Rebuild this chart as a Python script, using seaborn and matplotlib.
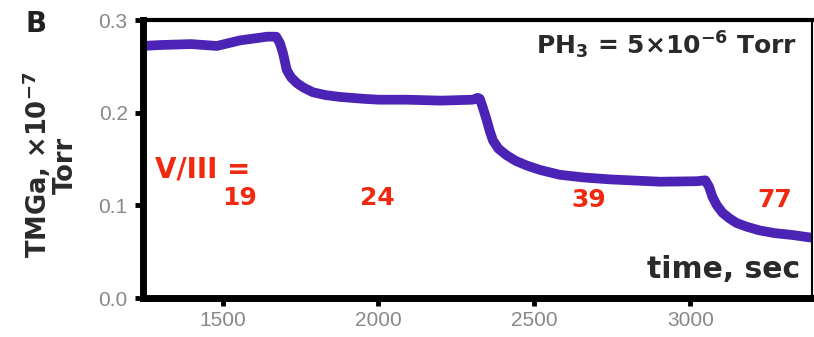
import matplotlib
matplotlib.use("Agg")
import matplotlib.pyplot as plt
import seaborn as sns
import pandas as pd

# ---- data ----
time_sec = [1245, 1300, 1400, 1482, 1556, 1600, 1643, 1672, 1684, 1694, 1700,
            1706, 1720, 1738, 1760, 1790, 1830, 1876, 1950, 2000, 2090, 2200,
            2303, 2318, 2325, 2335, 2347, 2357, 2367, 2385, 2411, 2440, 2475,
            2520, 2581, 2660, 2742, 2902, 3020, 3048, 3060, 3071, 3085, 3103,
            3125, 3148, 3180, 3221, 3270, 3327, 3390]
tmga = [0.272, 0.273, 0.274, 0.272, 0.278, 0.280, 0.282, 0.282, 0.275, 0.264,
        0.255, 0.246, 0.238, 0.232, 0.227, 0.222, 0.219, 0.217, 0.215, 0.214,
        0.214, 0.213, 0.214, 0.216, 0.215, 0.205, 0.192, 0.180, 0.170, 0.161,
        0.154, 0.148, 0.143, 0.138, 0.133, 0.130, 0.128, 0.1255, 0.126, 0.127,
        0.120, 0.109, 0.100, 0.092, 0.086, 0.081, 0.077, 0.073, 0.070, 0.068,
        0.065]
ratio_labels = ["19", "24", "39", "77"]
ratio_x = [1555, 1995, 2675, 3271]
ratio_y = [0.108, 0.108, 0.106, 0.106]
x_ticks = [1500, 2000, 2500, 3000]
y_ticks = [0.0, 0.1, 0.2, 0.3]

df = pd.DataFrame({"time": time_sec, "tmga": tmga})

sns.set_style("white")
plt.rcParams["font.family"] = ["DejaVu Sans"]
plt.rcParams["mathtext.fontset"] = "dejavusans"

fig = plt.figure(figsize=(8.14, 3.37), dpi=100)
ax = fig.add_axes([143 / 814, 1 - 298 / 337, (812 - 143) / 814, (298 - 20) / 337])

sns.lineplot(data=df, x="time", y="tmga", ax=ax, color="#4b24b5",
             linewidth=7, solid_capstyle="butt", solid_joinstyle="round")

ax.set_xlim(1245, 3390)
ax.set_ylim(0.0, 0.3)
ax.set_xticks(x_ticks)
ax.set_yticks(y_ticks)
ax.set_xticklabels([str(v) for v in x_ticks])
ax.set_yticklabels([f"{v:.1f}" for v in y_ticks])
ax.set_xlabel("")
ax.set_ylabel("")

for s, lw in [("left", 5), ("bottom", 5), ("top", 3), ("right", 1.5)]:
    ax.spines[s].set_visible(True)
    ax.spines[s].set_color("black")
    ax.spines[s].set_linewidth(lw)

ax.tick_params(axis="both", direction="out", length=6, width=3.5,
               color="black", labelcolor="#888888", labelsize=15,
               bottom=True, left=True, top=False, right=False)
ax.tick_params(axis="y", pad=5)
for lab in ax.get_xticklabels() + ax.get_yticklabels():
    lab.set_fontfamily("Liberation Sans")

red = "#f02a10"
ax.text(1283, 0.139, "V/III =", color=red, fontsize=20, fontweight="bold",
        ha="left", va="center")
for lab, x, y in zip(ratio_labels, ratio_x, ratio_y):
    ax.text(x, y, lab, color=red, fontsize=18, fontweight="bold",
            ha="center", va="center")

ax.text(0.978, 0.91, r"PH$_\mathbf{3}$ = 5×10$^\mathbf{-6}$ Torr",
        transform=ax.transAxes, ha="right", va="center", fontsize=18,
        fontweight="bold", color="#2a2a2a")
ax.text(0.982, 0.072, "time, sec", transform=ax.transAxes, ha="right",
        va="baseline", fontsize=21.5, fontweight="bold", color="#2a2a2a")

fig.text(50 / 814, 1 - 165 / 337, "TMGa, ×10$^\\mathbf{-7}$\nTorr", rotation=90,
         ha="center", va="center", multialignment="center", fontsize=18.5,
         fontweight="bold", color="#2a2a2a", linespacing=1.0)
fig.text(25 / 814, 1 - 10 / 337, "B", ha="left", va="top", fontsize=20,
         fontweight="bold", color="#222222")

fig.savefig("out.png", dpi=100)
